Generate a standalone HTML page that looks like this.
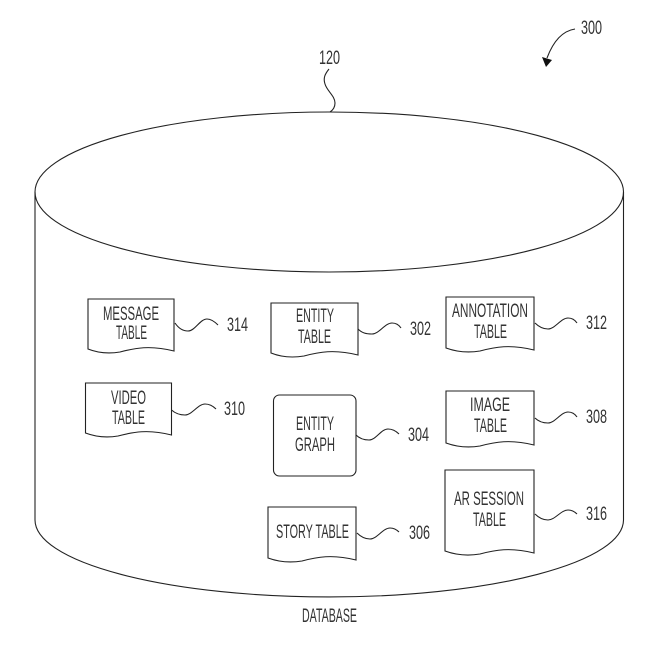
<!DOCTYPE html>
<html>
<head>
<meta charset="utf-8">
<style>
html,body{margin:0;padding:0;background:#fff;width:662px;height:648px;overflow:hidden}
svg{display:block}
text{font-family:"Liberation Sans",sans-serif;font-size:19px;fill:#333}
.l{fill:none;stroke:#222;stroke-width:1.1}
</style>
</head>
<body>
<svg width="662" height="648" viewBox="0 0 662 648" xmlns="http://www.w3.org/2000/svg">
<ellipse class="l" cx="329.25" cy="192" rx="294.25" ry="80"/>
<path class="l" d="M35 192V520A294.25 77 0 0 0 623.5 520V192"/>

<path class="l" d="M88 299H174V351C150 345 135 348 120 352C108 354 98 353 88 349Z"/>
<path class="l" d="M85.5 383H171.5V435C148 429 133 432 118 436C106 438 96 437 85.5 433Z"/>
<path class="l" d="M271 303H358V355C334 349 319 352 304 356C292 358 281 357 271 353Z"/>
<rect class="l" x="273.5" y="395" width="82.5" height="81" rx="6"/>
<path class="l" d="M268 507H356V560C332 554 317 557 302 561C290 563 279 562 268 558Z"/>
<path class="l" d="M446 297H534V350C510 344 495 347 480 351C468 353 457 352 446 348Z"/>
<path class="l" d="M446 391H534V445C510 439 495 442 480 446C468 448 457 447 446 443Z"/>
<path class="l" d="M445 470H534V553C510 547 495 550 480 554C468 556 456 555 445 551Z"/>

<path class="l" d="M175 323C179 329 183 331 188 331C195 331 200 319 207 319C211 319 215 322 218 325"/>
<path class="l" d="M171.5 410C176 414 180 415 185 415C192 415 198 404 205 404C209 404 213 406 216 409"/>
<path class="l" d="M358 329C362 333 366 334 372 334C379 334 385 323 392 323C396 323 399 325 401 328"/>
<path class="l" d="M356 435C360 439 364 440 369 440C376 440 381 429 388 429C392 429 396 431 399 434"/>
<path class="l" d="M357 533C361 537 365 539 370 539C377 539 383 528 390 528C394 528 397 530 399 532"/>
<path class="l" d="M535 323C539 327 543 329 548 329C555 329 561 318 568 318C572 318 575 320 577 323"/>
<path class="l" d="M535 418C539 422 543 423 548 423C555 423 561 412 568 412C572 412 575 414 577 417"/>
<path class="l" d="M535 514C539 518 543 520 548 520C555 520 561 510 568 510C572 510 575 512 577 514"/>
<path class="l" d="M329 69C325 74 323 78 325 84C327 91 335 96 335 103C335 107 333 110 330 112"/>
<path class="l" d="M575 29C562 31 553 42 547 58"/>
<path d="M542 57L552 60L546 67Z" fill="#111"/>

<text x="103" y="320" textLength="56" lengthAdjust="spacingAndGlyphs">MESSAGE</text>
<text x="116" y="339" textLength="31" lengthAdjust="spacingAndGlyphs">TABLE</text>
<text x="111" y="404" textLength="35" lengthAdjust="spacingAndGlyphs">VIDEO</text>
<text x="112" y="424" textLength="33" lengthAdjust="spacingAndGlyphs">TABLE</text>
<text x="296" y="322" textLength="38" lengthAdjust="spacingAndGlyphs">ENTITY</text>
<text x="298" y="343" textLength="33" lengthAdjust="spacingAndGlyphs">TABLE</text>
<text x="296" y="430" textLength="38" lengthAdjust="spacingAndGlyphs">ENTITY</text>
<text x="295" y="451" textLength="40" lengthAdjust="spacingAndGlyphs">GRAPH</text>
<text x="276" y="538" textLength="73" lengthAdjust="spacingAndGlyphs">STORY TABLE</text>
<text x="452" y="317" textLength="76" lengthAdjust="spacingAndGlyphs">ANNOTATION</text>
<text x="474" y="338" textLength="33" lengthAdjust="spacingAndGlyphs">TABLE</text>
<text x="470" y="411" textLength="40" lengthAdjust="spacingAndGlyphs">IMAGE</text>
<text x="474" y="432" textLength="33" lengthAdjust="spacingAndGlyphs">TABLE</text>
<text x="454" y="505" textLength="70" lengthAdjust="spacingAndGlyphs">AR SESSION</text>
<text x="473" y="526" textLength="33" lengthAdjust="spacingAndGlyphs">TABLE</text>
<text x="302" y="622" textLength="55" lengthAdjust="spacingAndGlyphs">DATABASE</text>

<text x="227" y="331" textLength="21" lengthAdjust="spacingAndGlyphs">314</text>
<text x="224" y="415" textLength="21" lengthAdjust="spacingAndGlyphs">310</text>
<text x="410" y="335" textLength="21" lengthAdjust="spacingAndGlyphs">302</text>
<text x="408" y="441" textLength="21" lengthAdjust="spacingAndGlyphs">304</text>
<text x="409" y="539" textLength="21" lengthAdjust="spacingAndGlyphs">306</text>
<text x="586" y="329" textLength="21" lengthAdjust="spacingAndGlyphs">312</text>
<text x="586" y="423" textLength="21" lengthAdjust="spacingAndGlyphs">308</text>
<text x="586" y="520" textLength="21" lengthAdjust="spacingAndGlyphs">316</text>
<text x="319" y="64" textLength="21" lengthAdjust="spacingAndGlyphs">120</text>
<text x="581" y="34" textLength="21" lengthAdjust="spacingAndGlyphs">300</text>
</svg>
</body>
</html>
